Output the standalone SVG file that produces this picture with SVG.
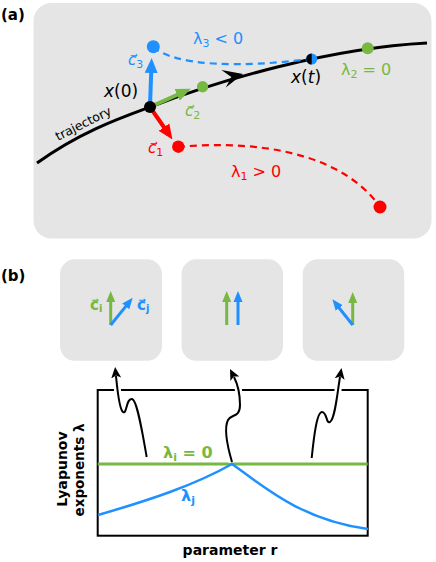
<svg xmlns="http://www.w3.org/2000/svg" width="436" height="562" viewBox="0 0 436 562">
<style>
.box{fill:#e5e5e5}
.t{font-family:"DejaVu Sans","Liberation Sans",sans-serif}
.bd{font-weight:bold}
.cb{fill:#1e90ff}.cg{fill:#77b843}.cr{fill:#ff0000}.ck{fill:#000}
.sb{stroke:#1e90ff}.sg{stroke:#77b843}.sr{stroke:#ff0000}.sk{stroke:#000}
.vec{fill:none;stroke-width:4}
.vb{fill:none;stroke-width:3}
.dash{fill:none;stroke-width:2.2;stroke-dasharray:7 5}
.wave{fill:none;stroke:#000;stroke-width:2;marker-end:url(#hk)}
.halo{fill:none;stroke:#fff;stroke-width:7}
</style>
<defs>
<marker id="ha-b" markerUnits="userSpaceOnUse" viewBox="0 -7 15 14" markerWidth="15" markerHeight="14" refX="1" refY="0" orient="auto"><path d="M0,-6.5 L15,0 L0,6.5 z" fill="#1e90ff"/></marker>
<marker id="ha-g" markerUnits="userSpaceOnUse" viewBox="0 -7 15 14" markerWidth="15" markerHeight="14" refX="1" refY="0" orient="auto"><path d="M0,-6.5 L15,0 L0,6.5 z" fill="#77b843"/></marker>
<marker id="ha-r" markerUnits="userSpaceOnUse" viewBox="0 -7 15 14" markerWidth="15" markerHeight="14" refX="1" refY="0" orient="auto"><path d="M0,-6.5 L15,0 L0,6.5 z" fill="#ff0000"/></marker>
<marker id="hb-b" markerUnits="userSpaceOnUse" viewBox="0 -5 11 10" markerWidth="11" markerHeight="10" refX="1" refY="0" orient="auto"><path d="M0,-4.5 L11,0 L0,4.5 z" fill="#1e90ff"/></marker>
<marker id="hb-g" markerUnits="userSpaceOnUse" viewBox="0 -5 11 10" markerWidth="11" markerHeight="10" refX="1" refY="0" orient="auto"><path d="M0,-4.5 L11,0 L0,4.5 z" fill="#77b843"/></marker>
<marker id="hk" markerUnits="userSpaceOnUse" viewBox="0 -6 11 12" markerWidth="11" markerHeight="12" refX="2" refY="0" orient="auto"><path d="M0,-5 L11,0 L0,5 L2.5,0 z" fill="#000"/></marker>
</defs>

<text class="t bd" x="1" y="20" font-size="15">(a)</text>
<text class="t bd" x="1" y="281" font-size="15">(b)</text>

<g id="panel-a">
  <rect class="box" x="33.5" y="3" width="398" height="235.5" rx="18"/>
</g>

<g id="connectors-a">
  <path id="trajectory-line" d="M37,163 C80,132 120,118 150,107 C220,80 330,48 427,43" fill="none" stroke="#000" stroke-width="3"/>
  <path d="M0,0 L-20,-9 L-12,0 L-20,9 z" fill="#000" transform="translate(243,74) rotate(-14)"/>
  <path class="dash sb" d="M153,47 C175,66 240,68 310,59"/>
  <path class="dash sr" d="M178,147 C250,140 340,150 380,207"/>
  <line class="vec sb" x1="150" y1="107" x2="151.2" y2="72" marker-end="url(#ha-b)"/>
  <line class="vec sg" x1="150" y1="107" x2="178" y2="94.5" marker-end="url(#ha-g)"/>
  <line class="vec sr" x1="150" y1="107" x2="164.5" y2="128" marker-end="url(#ha-r)"/>
</g>

<g id="x0">
  <circle cx="150" cy="107" r="6" fill="#000"/>
  <text class="t" x="104" y="97" font-size="17"><tspan font-style="italic">x</tspan>(0)</text>
</g>
<g id="c3">
  <circle cx="153.3" cy="46.7" r="6.5" class="cb"/>
  <text class="t cb" x="128" y="65" font-size="15"><tspan font-style="italic">c⃗</tspan><tspan font-size="11" dy="3">3</tspan></text>
</g>
<g id="c2">
  <circle cx="202.6" cy="86.8" r="5.7" class="cg"/>
  <text class="t cg" x="185" y="116" font-size="15"><tspan font-style="italic">c⃗</tspan><tspan font-size="11" dy="3">2</tspan></text>
</g>
<g id="c1">
  <circle cx="178.3" cy="146.7" r="6.2" class="cr"/>
  <text class="t cr" x="148" y="153" font-size="15"><tspan font-style="italic">c⃗</tspan><tspan font-size="11" dy="3">1</tspan></text>
</g>
<g id="c1-end">
  <circle cx="380" cy="207" r="6.5" class="cr"/>
  <text class="t cr" x="231" y="177" font-size="16">λ<tspan font-size="11" dy="3">1</tspan><tspan dy="-3"> &gt; 0</tspan></text>
</g>
<g id="c3-label">
  <text class="t cb" x="193" y="44" font-size="16">λ<tspan font-size="11" dy="3">3</tspan><tspan dy="-3"> &lt; 0</tspan></text>
</g>
<g id="xt">
  <circle cx="311.7" cy="59" r="5.5" class="cb"/>
  <path d="M311.7,53.5 A5.5,5.5 0 0 0 311.7,64.5 z" fill="#000"/>
  <text class="t" x="291" y="83" font-size="17"><tspan font-style="italic">x</tspan>(<tspan font-style="italic">t</tspan>)</text>
</g>
<g id="l2">
  <circle cx="367.7" cy="48.3" r="6" class="cg"/>
  <text class="t cg" x="341" y="75" font-size="16">λ<tspan font-size="11" dy="3">2</tspan><tspan dy="-3"> = 0</tspan></text>
</g>
<text class="t" font-size="12.5" transform="translate(58,141) rotate(-26.5)">trajectory</text>

<g id="box1">
  <rect class="box" x="60" y="259.3" width="102" height="101.5" rx="15"/>
  <line class="vb sg" x1="110.7" y1="325" x2="110.7" y2="301" marker-end="url(#hb-g)"/>
  <line class="vb sb" x1="110.7" y1="325" x2="126.4" y2="305.6" marker-end="url(#hb-b)"/>
  <text class="t bd cg" x="90" y="310" font-size="15">c⃗<tspan font-size="10" dy="2">i</tspan></text>
  <text class="t bd cb" x="137" y="310" font-size="15">c⃗<tspan font-size="10" dy="2">j</tspan></text>
</g>
<g id="box2">
  <rect class="box" x="181.5" y="259.3" width="101.5" height="101.5" rx="15"/>
  <line class="vb sg" x1="226.7" y1="325" x2="226.7" y2="301" marker-end="url(#hb-g)"/>
  <line class="vb sb" x1="238" y1="325" x2="238" y2="301" marker-end="url(#hb-b)"/>
</g>
<g id="box3">
  <rect class="box" x="302.7" y="259.3" width="101.5" height="101.5" rx="15"/>
  <line class="vb sg" x1="352.7" y1="325" x2="352.7" y2="302" marker-end="url(#hb-g)"/>
  <line class="vb sb" x1="352.7" y1="325" x2="338.6" y2="307.2" marker-end="url(#hb-b)"/>
</g>

<g id="plot">
  <rect x="97.7" y="390" width="270" height="145.7" fill="#fff" stroke="#000" stroke-width="2"/>
  <line x1="97.7" y1="464" x2="367.7" y2="464" stroke="#77b843" stroke-width="2.8"/>
  <path d="M98,515 C150,500 195,485 232,464 C262,485 300,520 368,529" fill="none" stroke="#1e90ff" stroke-width="2.5"/>
  <text class="t bd cg" x="163" y="458" font-size="16">λ<tspan font-size="11" dy="3">i</tspan><tspan dy="-3"> = 0</tspan></text>
  <text class="t bd cb" x="181" y="501" font-size="16">λ<tspan font-size="11" dy="3">j</tspan></text>
  <text class="t bd" font-size="14" text-anchor="middle" transform="translate(67,469) rotate(-90)">Lyapunov</text>
  <text class="t bd" font-size="13.5" text-anchor="middle" transform="translate(84,470) rotate(-90)">exponents λ</text>
  <text class="t bd" font-size="14" x="230" y="555" text-anchor="middle">parameter r</text>
</g>

<g id="connectors-b">
  <path class="halo" d="M146.7,457 C142,430 137,400 132,399 C126,398 127,415 123,412 C119,409 117,386 116,376"/>
  <path class="halo" d="M232,462 C227,445 224,428 228,420 C231,414 240,418 240,405 C240,392 237,383 234,377"/>
  <path class="halo" d="M311.7,458 C314,435 317,412 322,412 C327,412 326,424 330,422 C335,419 337,395 340,377"/>
  <path class="wave" d="M146.7,457 C142,430 137,400 132,399 C126,398 127,415 123,412 C119,409 117,386 116,376"/>
  <path class="wave" d="M232,462 C227,445 224,428 228,420 C231,414 240,418 240,405 C240,392 237,383 234,377"/>
  <path class="wave" d="M311.7,458 C314,435 317,412 322,412 C327,412 326,424 330,422 C335,419 337,395 340,377"/>
</g>
</svg>
